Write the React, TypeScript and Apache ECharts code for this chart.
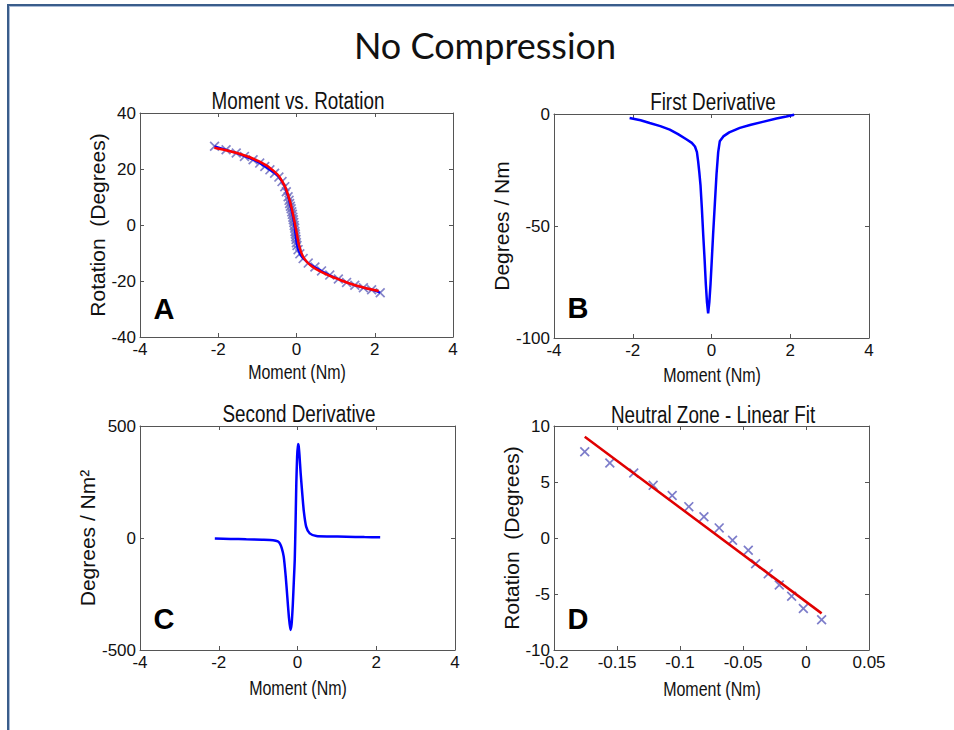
import React, { useEffect, useRef } from "react";
import * as echarts from "echarts";

// ---------- Panel A: Moment vs. Rotation (data in three segments) ----------
const leftMoment = [-2.095, -1.8, -1.54, -1.33, -1.11, -0.94, -0.81, -0.68, -0.56, -0.45, -0.37, -0.3, -0.26, -0.215, -0.19];
const leftRotation = [28.1, 26.9, 25.7, 24.5, 23.3, 22.1, 20.9, 19.7, 18.5, 17.1, 15.5, 13.7, 11.9, 10.1, 8.8];
// neutral zone points (also panel D)
const neutralMoment = [-0.1756, -0.1557, -0.1367, -0.1213, -0.1062, -0.093, -0.081, -0.0689, -0.0583, -0.0458, -0.04, -0.03, -0.0212, -0.0114, -0.0021, 0.0124];
const neutralRotation = [7.7, 6.7, 5.8, 4.7, 3.8, 2.8, 1.9, 0.9, -0.2, -1.1, -2.3, -3.2, -4.2, -5.2, -6.3, -7.3];
const rightMoment = [0.04, 0.085, 0.17, 0.3, 0.47, 0.64, 0.85, 1.07, 1.28, 1.49, 1.71, 1.92, 2.14];
const rightRotation = [-8.8, -10.3, -12.0, -13.6, -15.0, -16.4, -17.9, -19.3, -20.5, -21.5, -22.4, -23.1, -24.2];
// fitted curve for panel A
const fitMomentA = [-2.1, -1.5, -1.0, -0.6, -0.35, -0.2, -0.1, 0, 0.08, 0.2, 0.4, 0.7, 1.0, 1.5, 2.1];
const fitRotationA = [27.6, 25.6, 23.0, 19.5, 15.2, 10, 4.5, -2.5, -8, -12, -14.8, -17.2, -19, -21.5, -23.6];

// ---------- Panel B: First derivative ----------
const firstMoment = [-2.08, -1.8, -1.57, -1.3, -1.06, -0.85, -0.64, -0.5, -0.42, -0.37, -0.34, -0.31, -0.28, -0.245, -0.21, -0.175, -0.144, -0.115, -0.085, -0.055, -0.025, 0.005, 0.04, 0.085, 0.127, 0.17, 0.21, 0.3, 0.45, 0.72, 1.0, 1.3, 1.65, 1.9, 2.1];
const firstDeriv = [-1.8, -2.8, -4.0, -5.4, -7.0, -9.0, -11.3, -12.9, -14.5, -17, -21, -26, -31.6, -42, -54, -65, -76, -84, -89, -84, -76, -66, -54, -40, -27, -17, -12.2, -10, -8.2, -6.2, -4.8, -3.5, -2.0, -1.1, -0.3];

// ---------- Panel C: Second derivative ----------
const secondMoment = [-2.1, -1.7, -1.3, -0.9, -0.62, -0.5, -0.45, -0.4, -0.35, -0.3, -0.26, -0.22, -0.18, -0.15, -0.12, -0.09, -0.07, -0.05, -0.03, -0.01, 0.01, 0.03, 0.05, 0.08, 0.12, 0.16, 0.22, 0.31, 0.48, 0.8, 1.24, 1.7, 2.1];
const secondDeriv = [-2, -4, -6, -8, -10, -15, -24, -45, -83, -170, -260, -350, -411, -385, -300, -180, -98, 60, 244, 360, 420, 410, 370, 290, 200, 120, 51, 21, 9, 7, 6, 4, 3];

// ---------- Panel D: linear fit endpoints ----------
const linFitMoment = [-0.1756, 0.0124];
const linFitRotation = [9.05, -6.73];

// ---------- Axis ranges / ticks ----------
const axisA = { x: [-4, 4, 2], y: [-40, 40, 20] };
const axisB = { x: [-4, 4, 2], y: [-100, 0, 50] };
const axisC = { x: [-4, 4, 2], y: [-500, 500, 500] };
const axisD = { x: [-0.2, 0.05, 0.05], y: [-10, 10, 5] };

const titles = ["Moment vs. Rotation", "First Derivative", "Second Derivative", "Neutral Zone - Linear Fit"];
const xNames = ["Moment (Nm)", "Moment (Nm)", "Moment (Nm)", "Moment (Nm)"];
const yNames = ["Rotation  (Degrees)", "Degrees / Nm", "Degrees / Nm²", "Rotation  (Degrees)"];
const letters = ["A", "B", "C", "D"];

const zip = (a: number[], b: number[]) => a.map((v, i) => [v, b[i]]);

const xPath =
  "path://M0,1.2L1.2,0L5,3.8L8.8,0L10,1.2L6.2,5L10,8.8L8.8,10L5,6.2L1.2,10L0,8.8L3.8,5Z";

const sans = '"Liberation Sans", Arial, sans-serif';
const axisColor = "#555555";

const grids = [
  { left: 140, top: 113, width: 313, height: 224 },
  { left: 554, top: 114, width: 315, height: 224 },
  { left: 140, top: 426, width: 315, height: 224 },
  { left: 554, top: 426, width: 315, height: 224 },
];
const yNameGaps = [31, 33, 33, 30];
const titlePos = [
  [298, 101],
  [713, 102],
  [299, 414],
  [713, 415],
];
const xNamePos = [
  [297, 372],
  [712, 375],
  [298, 688],
  [712, 689],
];
const letterPos = [
  [164, 309],
  [578, 308],
  [164, 619],
  [578, 619],
];

function makeAxes(i: number, r: { x: number[]; y: number[] }) {
  const common = (min: number, max: number, interval: number) => ({
    type: "value",
    gridIndex: i,
    min,
    max,
    interval,
    axisLine: { show: true, onZero: false, lineStyle: { color: axisColor, width: 1 } },
    axisTick: { show: true, inside: true, length: 4, lineStyle: { color: axisColor } },
    splitLine: { show: false },
  });
  const label = {
    show: true,
    color: "#111",
    fontSize: 17,
    fontFamily: sans,
    margin: 4,
    showMinLabel: true,
    showMaxLabel: true,
  };
  const xs = [
    { ...common(r.x[0], r.x[1], r.x[2]), position: "bottom", axisLabel: label },
    { ...common(r.x[0], r.x[1], r.x[2]), position: "top", axisLabel: { show: false } },
  ];
  const ys = [
    {
      ...common(r.y[0], r.y[1], r.y[2]),
      position: "left",
      axisLabel: label,
      name: yNames[i],
      nameLocation: "middle",
      nameGap: yNameGaps[i],
      nameTextStyle: { color: "#111", fontSize: 21, fontFamily: sans },
    },
    { ...common(r.y[0], r.y[1], r.y[2]), position: "right", axisLabel: { show: false } },
  ];
  return { xs, ys };
}

export default function App() {
  const ref = useRef<HTMLDivElement>(null);
  useEffect(() => {
    document.body.style.margin = "0";
    if (!ref.current) return;
    const chart = echarts.init(ref.current, undefined, { renderer: "svg" });
    const ranges = [axisA, axisB, axisC, axisD];
    const xAxis: any[] = [];
    const yAxis: any[] = [];
    ranges.forEach((r, i) => {
      const { xs, ys } = makeAxes(i, r);
      xAxis.push(...xs);
      yAxis.push(...ys);
    });

    const dataA = [
      ...zip(leftMoment, leftRotation),
      ...zip(neutralMoment, neutralRotation),
      ...zip(rightMoment, rightRotation),
    ];

    const graphic: any[] = [
      { type: "rect", shape: { x: 7, y: 4, width: 947, height: 2 }, style: { fill: "#3a5d8b" }, z: 100 },
      { type: "rect", shape: { x: 9, y: 6, width: 945, height: 1 }, style: { fill: "#a9bbd6" }, z: 100 },
      { type: "rect", shape: { x: 7, y: 4, width: 2, height: 726 }, style: { fill: "#3a5d8b" }, z: 100 },
      { type: "rect", shape: { x: 9, y: 6, width: 1, height: 724 }, style: { fill: "#a9bbd6" }, z: 100 },
      {
        type: "text",
        x: 485,
        y: 45,
        style: {
          text: "No Compression",
          font: '36px Lato, "Open Sans", sans-serif',
          fill: "#111",
          align: "center",
          verticalAlign: "middle",
        },
      },
    ];
    titles.forEach((t, i) => {
      graphic.push({
        type: "text",
        x: titlePos[i][0],
        y: titlePos[i][1],
        scaleX: 0.82,
        style: {
          text: t,
          font: `23px ${sans}`,
          fill: "#111",
          align: "center",
          verticalAlign: "middle",
        },
      });
    });
    xNames.forEach((t, i) => {
      graphic.push({
        type: "text",
        x: xNamePos[i][0],
        y: xNamePos[i][1],
        scaleX: 0.82,
        style: {
          text: t,
          font: `19.5px ${sans}`,
          fill: "#111",
          align: "center",
          verticalAlign: "middle",
        },
      });
    });
    letters.forEach((t, i) => {
      graphic.push({
        type: "text",
        x: letterPos[i][0],
        y: letterPos[i][1],
        z: 50,
        style: {
          text: t,
          font: `bold 29px ${sans}`,
          fill: "#000",
          align: "center",
          verticalAlign: "middle",
        },
      });
    });

    chart.setOption({
      animation: false,
      backgroundColor: "#ffffff",
      grid: grids.map((g) => ({ ...g, containLabel: false })),
      xAxis,
      yAxis,
      graphic,
      series: [
        {
          type: "line",
          xAxisIndex: 0,
          yAxisIndex: 0,
          data: dataA,
          showSymbol: false,
          lineStyle: { color: "#0000ff", width: 2 },
        },
        {
          type: "line",
          xAxisIndex: 0,
          yAxisIndex: 0,
          data: zip(fitMomentA, fitRotationA),
          smooth: true,
          showSymbol: false,
          lineStyle: { color: "#ff0000", width: 2.5 },
        },
        {
          type: "scatter",
          xAxisIndex: 0,
          yAxisIndex: 0,
          data: dataA,
          symbol: xPath,
          symbolSize: 10,
          itemStyle: { color: "#6f6fbf", opacity: 0.85 },
        },
        {
          type: "line",
          xAxisIndex: 2,
          yAxisIndex: 2,
          data: zip(firstMoment, firstDeriv),
          showSymbol: false,
          lineStyle: { color: "#0000ff", width: 2.5 },
        },
        {
          type: "line",
          xAxisIndex: 4,
          yAxisIndex: 4,
          data: zip(secondMoment, secondDeriv),
          smooth: 0.2,
          showSymbol: false,
          lineStyle: { color: "#0000ff", width: 2.5 },
        },
        {
          type: "scatter",
          xAxisIndex: 6,
          yAxisIndex: 6,
          data: zip(neutralMoment, neutralRotation),
          symbol: xPath,
          symbolSize: 10,
          itemStyle: { color: "#6f6fc4", opacity: 0.9 },
        },
        {
          type: "line",
          xAxisIndex: 6,
          yAxisIndex: 6,
          data: zip(linFitMoment, linFitRotation),
          showSymbol: false,
          lineStyle: { color: "#e00000", width: 2.5 },
        },
      ],
    });
    return () => chart.dispose();
  }, []);
  return (
    <div
      ref={ref}
      style={{ position: "fixed", left: 0, top: 0, width: 954, height: 730, background: "#fff" }}
    />
  );
}
